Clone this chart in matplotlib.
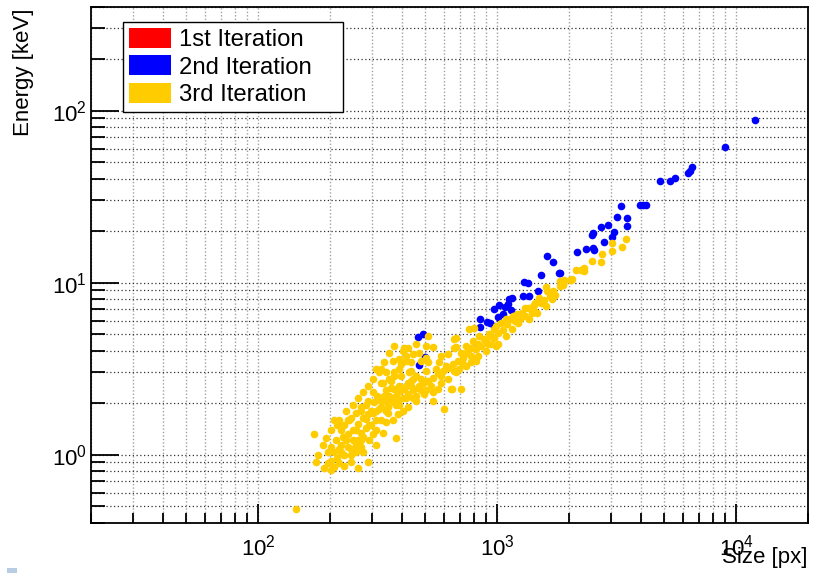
import numpy as np
import matplotlib
matplotlib.use('Agg')
import matplotlib.pyplot as plt
from matplotlib.patches import Patch, Rectangle
from matplotlib.ticker import LogLocator, NullFormatter

plt.rcParams['font.family'] = ['Liberation Sans', 'DejaVu Sans']

# 2nd iteration (blue) points: cluster size [px], energy [keV]
blue_size = [12000, 9000, 4820, 5300, 5560, 6300, 6430, 6550, 3970, 4090,
             4200, 3310, 3190, 3510, 3510, 2920, 3100, 3040, 2730, 2530,
             2500, 2810, 2530, 2550, 2360, 2150, 1840, 1720, 1520, 1810,
             1625, 1300, 1350, 1480, 1280, 1360, 1160, 1120, 1110, 1020,
             1080, 1140, 970, 1060, 850, 910, 930, 970, 845, 1010,
             489, 466, 498, 470]
blue_energy = [88, 61, 39.2, 38.7, 40.8, 43.6, 44.8, 47.2, 28.4, 28.4,
               28.4, 27.7, 23.9, 23.6, 21.2, 21.7, 19.8, 18.5, 20.9, 19.3,
               19.0, 17.1, 15.8, 15.4, 15.6, 15.1, 11.4, 13.1, 11.0, 11.3,
               14.2, 10.1, 9.9, 8.9, 8.3, 8.3, 8.1, 8.0, 7.5, 7.4,
               7.2, 6.9, 7.0, 6.6, 6.1, 5.9, 5.8, 5.6, 5.5, 6.3,
               5.05, 4.8, 3.7, 3.3]

# 3rd iteration (yellow) points
yellow_size = [188, 196, 202, 202, 208, 218, 202, 208, 218, 238,
               245, 256, 245, 261, 288, 202, 208, 218, 226, 238,
               250, 261, 274, 288, 212, 222, 233, 250, 261, 269,
               229, 240, 256, 269, 282, 274, 296, 302, 290, 311,
               269, 282, 296, 305, 320, 326, 314, 302, 317, 326,
               342, 352, 332, 359, 388, 423, 349, 385, 377, 171,
               144, 269, 288, 245, 238, 256,
               342, 359, 370, 388, 396, 388, 404, 423, 443, 416,
               435, 456, 479, 503, 488, 465, 443, 423, 404, 385,
               366, 349, 396, 416, 435, 456, 479, 493, 528, 538,
               513, 564, 592, 622, 652, 684, 718, 564, 538, 598,
               704, 646, 456, 423, 513, 538, 456, 503, 659, 659,
               622, 659, 718, 581, 610, 554, 503, 435, 479, 513,
               408, 311, 570, 672, 326, 370, 640,
               739, 775, 813, 853, 913, 1006, 878, 922, 968, 1006,
               1054, 986, 1034, 1105, 1085, 1138, 1171, 1217, 1277, 1315,
               1407, 1380, 1421, 1448, 1520, 1491, 1565, 1595, 1624, 1755,
               1841, 2030, 1841, 1895, 760, 798, 775, 753, 829, 968,
               1105, 1253, 1341, 1421, 895, 940, 1194, 1315, 1672, 1721,
               672,
               3030, 3030, 3340, 3470, 2760, 2730, 2500, 2320, 2300, 2240,
               2130, 2060, 2020, 1900, 1880,
               179, 187, 192, 196, 214, 229, 229, 222, 214, 233,
               250, 261, 274, 288, 302, 320, 336, 352, 370, 256,
               274, 311, 332, 342, 366, 326, 311, 282, 302, 342,
               377, 404, 377, 370, 352, 342, 326, 366, 427, 443,
               470, 503, 538, 581, 622, 672, 739, 775, 829, 895,
               986, 1085, 1160, 1229, 1354, 1463, 1595, 1705, 813, 690,
               503, 470, 581, 396, 416,
               336, 359, 385, 408, 435, 447, 416, 388, 311, 290,
               269, 245, 222, 174, 837, 790, 739, 940, 704]
yellow_energy = [0.83, 0.89, 0.81, 0.92, 0.85, 0.89, 1.10, 1.03, 1.08, 1.10,
                 0.99, 1.03, 0.90, 0.84, 0.90, 1.38, 1.58, 1.58, 1.26, 1.32,
                 1.38, 1.51, 1.64, 1.73, 1.21, 1.13, 1.21, 1.21, 1.21, 1.10,
                 1.48, 1.58, 1.38, 1.34, 1.42, 1.26, 1.48, 1.32, 1.21, 1.58,
                 1.80, 1.93, 1.80, 2.01, 1.85, 2.06, 2.20, 2.30, 2.14, 1.88,
                 2.06, 2.20, 2.59, 2.45, 2.52, 2.62, 1.75, 1.73, 1.24, 1.32,
                 0.485, 1.88, 2.06, 1.64, 1.58, 1.75,
                 2.36, 2.69, 3.00, 3.16, 3.38, 3.61, 4.02, 4.19, 3.86, 3.52,
                 3.08, 2.88, 2.76, 2.69, 2.59, 2.45, 2.36, 2.26, 2.14, 2.06,
                 2.01, 1.88, 2.36, 2.52, 2.69, 2.20, 2.36, 2.26, 2.52, 2.80,
                 2.69, 2.96, 3.08, 3.20, 3.38, 3.52, 3.66, 2.42, 2.06, 1.85,
                 2.42, 2.39, 2.06, 1.88, 3.43, 4.24, 4.42, 4.30, 4.72, 4.19,
                 3.86, 3.08, 3.38, 2.88, 3.29, 3.16, 3.08, 3.43, 3.52, 4.92,
                 4.19, 3.16, 3.43, 4.24, 2.59, 2.88, 2.42,
                 3.91, 3.76, 4.13, 4.30, 4.42, 4.42, 4.72, 5.05, 4.79, 5.12,
                 5.33, 5.62, 5.85, 5.77, 6.17, 6.17, 6.43, 6.60, 6.69, 7.16,
                 6.69, 7.16, 7.45, 7.65, 7.65, 8.18, 7.97, 9.48, 8.98, 8.51,
                 10.27, 10.4, 9.61, 9.87, 5.40, 5.47, 4.19, 3.91, 4.42, 5.40,
                 6.01, 6.17, 7.16, 6.87, 4.60, 4.92, 6.01, 6.43, 8.40, 8.98,
                 4.79,
                 16.9, 15.3, 16.0, 18.0, 14.7, 13.2, 13.4, 12.2, 11.7, 11.9,
                 11.9, 10.5, 10.3, 10.3, 9.7,
                 0.99, 1.13, 1.24, 1.03, 0.95, 0.99, 0.86, 1.38, 1.48, 1.80,
                 1.93, 2.12, 2.30, 2.52, 2.76, 3.00, 3.43, 3.91, 4.30, 1.13,
                 1.03, 1.13, 1.34, 1.54, 1.58, 1.58, 1.38, 1.62, 1.75, 1.80,
                 1.93, 1.80, 2.20, 2.42, 2.76, 3.00, 3.16, 3.52, 3.00, 2.76,
                 2.52, 2.36, 2.30, 2.62, 2.76, 3.00, 3.29, 3.43, 3.76, 4.02,
                 4.30, 4.92, 5.40, 5.85, 6.17, 6.69, 7.35, 8.07, 3.52, 3.16,
                 3.66, 3.91, 3.76, 2.88, 3.76,
                 2.20, 2.12, 2.30, 2.42, 2.52, 2.14, 2.12, 1.93, 1.80, 1.48,
                 1.21, 1.08, 1.03, 0.90, 4.92, 4.60, 4.30, 4.42, 3.91]

legend_labels = ['1st Iteration', '2nd Iteration', '3rd Iteration']
legend_colors = ['#ff0000', '#0000ff', '#ffcc00']

x_ticks = [1e2, 1e3, 1e4]
x_ticklabels = [r'$\mathregular{10^{2}}$', r'$\mathregular{10^{3}}$', r'$\mathregular{10^{4}}$']
y_ticks = [1e0, 1e1, 1e2]
y_ticklabels = [r'$\mathregular{10^{0}}$', r'$\mathregular{10^{1}}$', r'$\mathregular{10^{2}}$']

fig = plt.figure(figsize=(8.17, 5.73), dpi=100)
ax = fig.add_axes([91/817, 50/573, 717/817, 516/573])

ax.plot(blue_size, blue_energy, 'o', color='#0000ff', markersize=5.5, markeredgewidth=0, zorder=3)
ax.plot(yellow_size, yellow_energy, 'o', color='#ffcc00', markersize=5.5, markeredgewidth=0, zorder=4)

ax.set_xscale('log')
ax.set_yscale('log')
ax.set_xlim(20, 20000)
ax.set_ylim(0.4, 400)

ax.set_xticks(x_ticks, x_ticklabels)
ax.set_yticks(y_ticks, y_ticklabels)
ax.xaxis.set_minor_locator(LogLocator(base=10, subs=np.arange(2, 10), numticks=20))
ax.yaxis.set_minor_locator(LogLocator(base=10, subs=np.arange(2, 10), numticks=20))
ax.xaxis.set_minor_formatter(NullFormatter())
ax.yaxis.set_minor_formatter(NullFormatter())

ax.tick_params(axis='both', which='both', direction='in', top=False, right=False,
               width=1.3, color='black', labelsize=16)
ax.tick_params(axis='x', which='major', length=14, pad=8)
ax.tick_params(axis='x', which='minor', length=7)
ax.tick_params(axis='y', which='major', length=20, pad=3)
ax.tick_params(axis='y', which='minor', length=10)

ax.set_axisbelow(True)
ax.xaxis.grid(True, which='both', color='#a0a0a0', linestyle=(0, (1, 1.5)), linewidth=1.0)
ax.yaxis.grid(True, which='both', color='#303030', linestyle=(0, (1, 2)), linewidth=0.9)

for s in ax.spines.values():
    s.set_linewidth(1.3)
    s.set_color('black')

# legend box: stretched to the reference width
handles = [Patch(facecolor=c, edgecolor='none') for c in legend_colors]
leg = ax.legend(handles, legend_labels, loc='upper left',
                bbox_to_anchor=(32/717, 0.5, 220/717, 0.5 - 15/516), mode='expand',
                borderaxespad=0, fontsize=17.2, handlelength=1.75, handleheight=0.9,
                handletextpad=0.35, labelspacing=0.18, borderpad=0.25,
                fancybox=False, framealpha=1, edgecolor='black')
leg.get_frame().set_linewidth(1.0)

fig.text(23/817, 1 - 8/573, 'Energy [keV]', rotation=90, ha='center', va='top', fontsize=16)
fig.text(807/817, 1 - 558/573, 'Size [px]', ha='right', va='center', fontsize=16)

fig.patches.append(Rectangle((7/817, 0), 10/817, 5/573, transform=fig.transFigure,
                             facecolor='#b8cce4', edgecolor='none'))

fig.savefig('out.png', dpi=100)
